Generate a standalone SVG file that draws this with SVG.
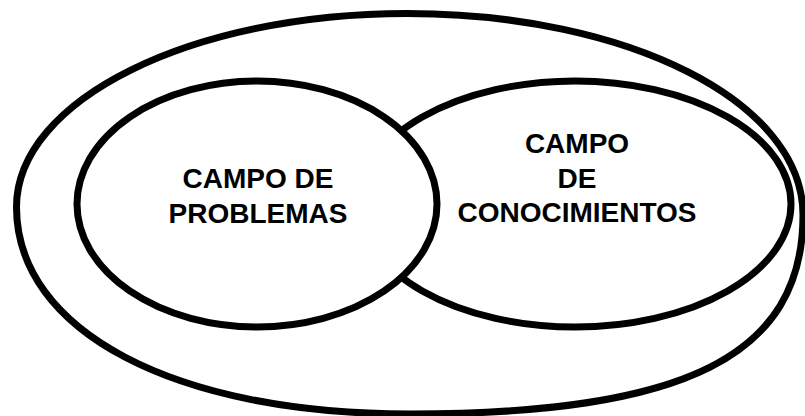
<svg xmlns="http://www.w3.org/2000/svg" width="805" height="416" viewBox="0 0 805 416">
<style>
.ring{fill:#fff;stroke:#000;stroke-width:7}
.lbl{font-family:"Liberation Sans",Arial,sans-serif;font-weight:bold;font-size:28px;fill:#000;text-anchor:middle}
</style>
<rect width="805" height="416" fill="#fff"/>
<g id="outer">
<path class="ring" d="M407,13.5 C628.5,13.5 803,102 803,215 C803,356 685,414 410,414 C174,414 16.5,331 16.5,207 C16.5,100 191,13.5 407,13.5 Z"/>
</g>
<g id="conocimientos">
<ellipse class="ring" cx="575" cy="204" rx="216" ry="123"/>
<text class="lbl" x="577" y="153">CAMPO</text>
<text class="lbl" x="577" y="188">DE</text>
<text class="lbl" x="577" y="222">CONOCIMIENTOS</text>
</g>
<g id="problemas">
<ellipse class="ring" cx="257" cy="204" rx="180" ry="123"/>
<text class="lbl" x="258" y="188">CAMPO DE</text>
<text class="lbl" x="258" y="223">PROBLEMAS</text>
</g>
<g id="connectors"/>
</svg>
